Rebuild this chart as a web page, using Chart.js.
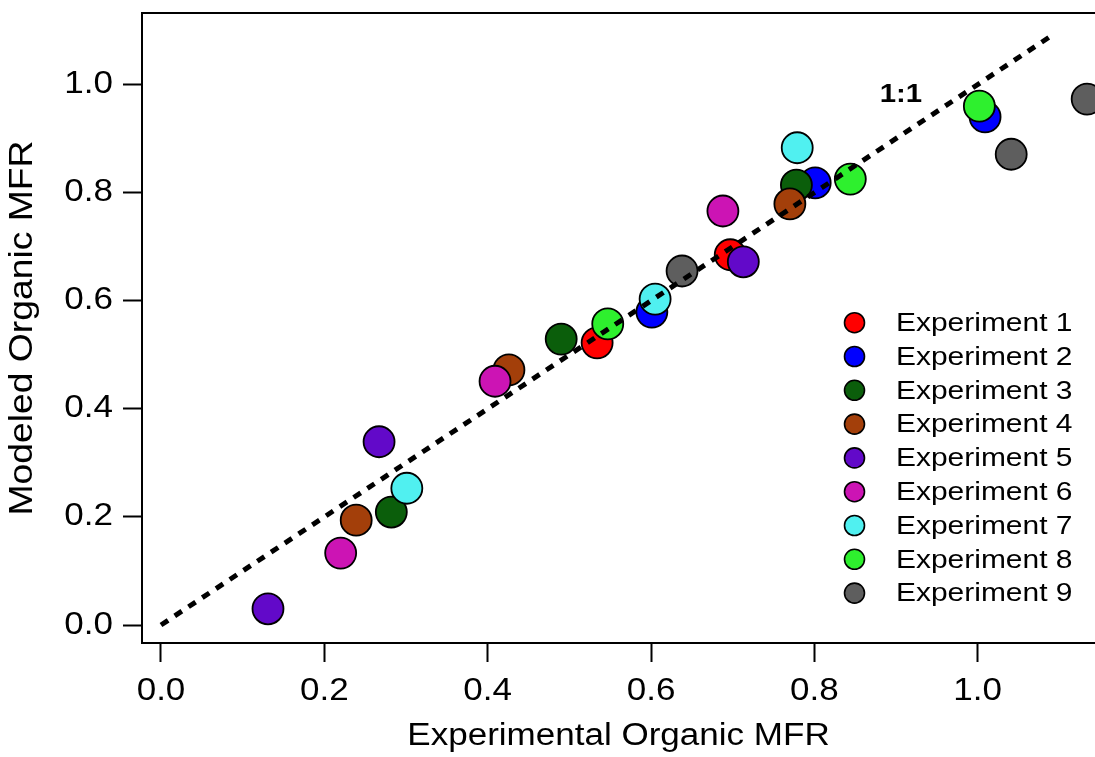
<!DOCTYPE html>
<html><head><meta charset="utf-8">
<script src="https://cdn.jsdelivr.net/npm/chart.js@4.4.1/dist/chart.umd.min.js"></script>
<style>html,body{margin:0;padding:0;background:#fff;overflow:hidden}#wrap{width:1095px;height:757px}</style>
</head><body><div id="wrap"><canvas id="c" width="1095" height="757"></canvas></div>
<script>
// ---- data ----
const experimentLabels = ["Experiment 1","Experiment 2","Experiment 3","Experiment 4","Experiment 5","Experiment 6","Experiment 7","Experiment 8","Experiment 9"];
const experimentColors = ["#FF0000","#0000FF","#0B5E0B","#A33F0A","#6209C9","#CC14B4","#50F0F0","#2EF02E","#5E5E5E"];
const exp1Experimental = [0.534, 0.697];        const exp1Modeled = [0.522, 0.685];
const exp2Experimental = [0.601, 0.801, 1.009]; const exp2Modeled = [0.579, 0.818, 0.940];
const exp3Experimental = [0.282, 0.490, 0.778]; const exp3Modeled = [0.209, 0.529, 0.814];
const exp4Experimental = [0.239, 0.426, 0.770]; const exp4Modeled = [0.194, 0.472, 0.779];
const exp5Experimental = [0.131, 0.267, 0.713]; const exp5Modeled = [0.030, 0.339, 0.672];
const exp6Experimental = [0.220, 0.409, 0.688]; const exp6Modeled = [0.133, 0.451, 0.766];
const exp7Experimental = [0.301, 0.605, 0.779]; const exp7Modeled = [0.253, 0.603, 0.883];
const exp8Experimental = [0.547, 0.844, 1.002]; const exp8Modeled = [0.557, 0.825, 0.960];
const exp9Experimental = [0.638, 1.041, 1.134]; const exp9Modeled = [0.655, 0.871, 0.973];
const oneToOneLine = [0, 1.095];
const oneToOneLabel = "1:1";
const oneToOneLabelPos = [0.906, 0.981];
const xTicks = [0.0, 0.2, 0.4, 0.6, 0.8, 1.0];
const yTicks = [0.0, 0.2, 0.4, 0.6, 0.8, 1.0];
const xTitle = "Experimental Organic MFR";
const yTitle = "Modeled Organic MFR";

// ---- wide-set text rendering (reference glyphs are horizontally wider) ----
const SX = 1.13;
const _fill = CanvasRenderingContext2D.prototype.fillText;
CanvasRenderingContext2D.prototype.fillText = function(t, x, y) {
  this.save(); this.translate(x, y); this.scale(SX, 1); _fill.call(this, t, 0, 0); this.restore();
};
const _measure = CanvasRenderingContext2D.prototype.measureText;
CanvasRenderingContext2D.prototype.measureText = function(t) {
  const m = _measure.call(this, t);
  return {width: m.width * SX, actualBoundingBoxAscent: m.actualBoundingBoxAscent,
    actualBoundingBoxDescent: m.actualBoundingBoxDescent,
    actualBoundingBoxLeft: m.actualBoundingBoxLeft * SX, actualBoundingBoxRight: m.actualBoundingBoxRight * SX};
};

const FAMILY = "'Liberation Sans', Arial, sans-serif";
const seriesX = [exp1Experimental, exp2Experimental, exp3Experimental, exp4Experimental, exp5Experimental, exp6Experimental, exp7Experimental, exp8Experimental, exp9Experimental];
const seriesY = [exp1Modeled, exp2Modeled, exp3Modeled, exp4Modeled, exp5Modeled, exp6Modeled, exp7Modeled, exp8Modeled, exp9Modeled];

const datasets = seriesX.map((xs, i) => ({
  type: 'scatter',
  label: experimentLabels[i],
  data: xs.map((x, j) => ({x: x, y: seriesY[i][j]})),
  backgroundColor: experimentColors[i],
  borderColor: '#000',
  borderWidth: 1.8,
  pointRadius: 15.5,
  pointHoverRadius: 15.5,
  order: 20 - i
}));
datasets.push({
  type: 'line', label: oneToOneLabel,
  data: oneToOneLine.map(v => ({x: v, y: v})),
  borderColor: '#000', borderWidth: 5, borderDash: [8.5, 8], borderCapStyle: 'butt',
  pointRadius: 0, fill: false, order: 0
});

const overlay = {
  id: 'overlay',
  afterDraw(chart) {
    const ctx = chart.ctx, ca = chart.chartArea;
    ctx.save();
    // top frame line
    ctx.strokeStyle = '#000'; ctx.lineWidth = 2;
    ctx.beginPath(); ctx.moveTo(ca.left - 1, ca.top); ctx.lineTo(ca.right, ca.top); ctx.stroke();
    // 1:1 label
    const xs = chart.scales.x, ys = chart.scales.y;
    ctx.fillStyle = '#000';
    ctx.font = "bold 26px " + FAMILY;
    ctx.textAlign = 'center'; ctx.textBaseline = 'middle';
    ctx.fillText(oneToOneLabel, xs.getPixelForValue(oneToOneLabelPos[0]), ys.getPixelForValue(oneToOneLabelPos[1]));
    // legend
    const mx = ca.left + 712.5, y0 = ca.top + 309.7, dy = 33.8;
    ctx.font = "26.5px " + FAMILY;
    ctx.textAlign = 'left';
    experimentLabels.forEach((lab, i) => {
      const y = y0 + i * dy;
      ctx.beginPath(); ctx.arc(mx, y, 10, 0, Math.PI * 2);
      ctx.fillStyle = experimentColors[i]; ctx.fill();
      ctx.lineWidth = 1.6; ctx.strokeStyle = '#000'; ctx.stroke();
      ctx.fillStyle = '#000';
      ctx.fillText(lab, mx + 41.5, y + 1);
    });
    ctx.restore();
  }
};

new Chart(document.getElementById('c'), {
  type: 'scatter',
  data: {datasets: datasets},
  options: {
    responsive: false, animation: false, devicePixelRatio: 1, events: [],
    layout: {autoPadding: false, padding: {top: 13, right: 0, left: 0, bottom: 0}},
    plugins: {legend: {display: false}, tooltip: {enabled: false}},
    scales: {
      x: {
        type: 'linear', min: -0.02326, max: 1.1436,
        afterBuildTicks: s => { s.ticks = xTicks.map(v => ({value: v})); },
        afterFit: s => { s.height = 114; s.paddingLeft = 0; s.paddingRight = 0; },
        grid: {display: true, drawOnChartArea: false, drawTicks: true, tickLength: 19, tickWidth: 2, tickColor: '#000'},
        border: {display: true, color: '#000', width: 2},
        ticks: {color: '#000', font: {family: FAMILY, size: 31, lineHeight: 1}, padding: 14, maxRotation: 0, autoSkip: false,
          callback: v => Number(v).toFixed(1)},
        title: {display: true, text: xTitle, color: '#000', font: {family: FAMILY, size: 31, lineHeight: 1}, padding: {top: 0, bottom: 5}}
      },
      y: {
        type: 'linear', min: -0.0333, max: 1.1323,
        afterBuildTicks: s => { s.ticks = yTicks.map(v => ({value: v})); },
        afterFit: s => { s.width = 142; s.paddingTop = 0; s.paddingBottom = 0; },
        grid: {display: true, drawOnChartArea: false, drawTicks: true, tickLength: 19, tickWidth: 2, tickColor: '#000'},
        border: {display: true, color: '#000', width: 2},
        ticks: {color: '#000', font: {family: FAMILY, size: 31, lineHeight: 1}, padding: 10, autoSkip: false,
          callback: v => Number(v).toFixed(1)},
        title: {display: true, text: yTitle, color: '#000', font: {family: FAMILY, size: 33, lineHeight: 1}, padding: {top: 6, bottom: 0}}
      }
    }
  },
  plugins: [overlay]
});
</script></body></html>
